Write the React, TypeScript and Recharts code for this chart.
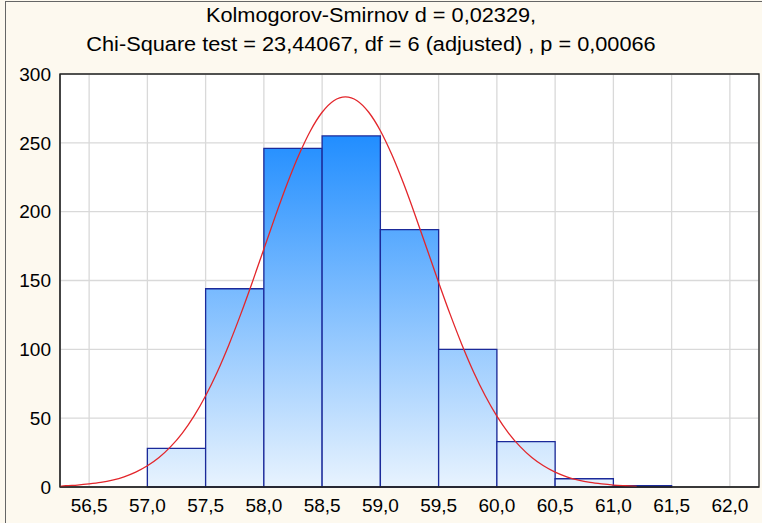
import { ComposedChart, Line, XAxis, YAxis, CartesianGrid, ReferenceArea } from 'recharts';

// histogram bins (lower edge, upper edge, count)
const binStarts = [57.0, 57.5, 58.0, 58.5, 59.0, 59.5, 60.0, 60.5, 61.0];
const binEnds = [57.5, 58.0, 58.5, 59.0, 59.5, 60.0, 60.5, 61.0, 61.5];
const binCounts = [28, 144, 246, 255, 187, 100, 33, 6, 1];

// fitted normal curve
const curveX = [
  56.25, 56.3, 56.4, 56.5, 56.6, 56.7, 56.8, 56.9, 57.0, 57.1, 57.2, 57.3, 57.4, 57.5, 57.6, 57.7, 57.8, 57.9,
  58.0, 58.1, 58.2, 58.3, 58.4, 58.5, 58.6, 58.7, 58.8, 58.9, 59.0, 59.1, 59.2, 59.3, 59.4, 59.5, 59.6, 59.7,
  59.8, 59.9, 60.0, 60.1, 60.2, 60.3, 60.4, 60.5, 60.6, 60.7, 60.8, 60.9, 61.0, 61.1, 61.2,
];
const curveY = [
  0.5, 0.9, 1.4, 2.2, 3.3, 5.0, 7.4, 10.8, 15.4, 21.4, 29.3, 39.2, 51.5, 66.3, 83.6, 103.4, 125.2, 148.6,
  172.9, 197.1, 220.2, 241.1, 258.8, 272.2, 280.6, 283.4, 280.6, 272.2, 258.8, 241.1, 220.2, 197.1, 172.9, 148.6, 125.2, 103.4,
  83.6, 66.3, 51.5, 39.2, 29.3, 21.4, 15.4, 10.8, 7.4, 5.0, 3.3, 2.2, 1.4, 0.9, 0.5,
];

const xTicks = [56.5, 57.0, 57.5, 58.0, 58.5, 59.0, 59.5, 60.0, 60.5, 61.0, 61.5, 62.0];
const yTicks = [0, 50, 100, 150, 200, 250, 300];

const titleLine1 = 'Kolmogorov-Smirnov d = 0,02329,';
const titleLine2 = 'Chi-Square test = 23,44067, df = 6 (adjusted) , p = 0,00066';

const curve = curveX.map((x, i) => ({ x, y: curveY[i] }));

const font = '"Liberation Sans", Arial, sans-serif';

const titleStyle = {
  position: 'absolute' as const,
  left: -10,
  width: 762,
  textAlign: 'center' as const,
  fontSize: 20,
  color: '#000',
  transform: 'scaleX(1.086)',
  transformOrigin: '50% 50%',
  whiteSpace: 'nowrap' as const,
};

const App = () => {
  return (
    <div
      style={{
        position: 'absolute',
        left: 0,
        top: 0,
        width: 762,
        height: 523,
        background: '#fdf9ef',
        fontFamily: font,
        overflow: 'hidden',
      }}
    >
      {/* window frame */}
      <div style={{ position: 'absolute', left: 5, top: 1, width: 760, height: 530, borderLeft: '1px solid #666', borderTop: '1px solid #666' }} />
      <div style={{ ...titleStyle, top: 4 }}>{titleLine1}</div>
      <div style={{ ...titleStyle, top: 33 }}>{titleLine2}</div>
      <div style={{ position: 'absolute', left: 0, top: 0 }}>
        <ComposedChart width={762} height={523} margin={{ top: 74, right: 3, bottom: 0, left: 0 }}>
          <defs>
            <linearGradient id="histGrad" gradientUnits="userSpaceOnUse" x1="0" y1="130" x2="0" y2="487">
              <stop offset="0%" stopColor="#1e8cff" />
              <stop offset="100%" stopColor="#e8f3fe" />
            </linearGradient>
          </defs>
          <CartesianGrid stroke="#d9d9d9" strokeWidth={1.3} fill="#ffffff" />
          <XAxis
            type="number"
            dataKey="x"
            domain={[56.25, 62.25]}
            allowDataOverflow
            ticks={xTicks}
            tickFormatter={(v: number) => v.toFixed(1).replace('.', ',')}
            height={36}
            tickSize={0}
            tickMargin={12}
            axisLine={{ stroke: '#222' }}
            tick={{ fontSize: 19, fill: '#000', fontFamily: font }}
          />
          <YAxis
            type="number"
            domain={[0, 300]}
            ticks={yTicks}
            width={60}
            tickSize={0}
            tickMargin={9}
            axisLine={{ stroke: '#222' }}
            tick={{ fontSize: 19, fill: '#000', fontFamily: font }}
          />
          {binCounts.map((c, i) => (
            <ReferenceArea
              key={i}
              x1={binStarts[i]}
              x2={binEnds[i]}
              y1={0}
              y2={c}
              fill="url(#histGrad)"
              fillOpacity={1}
              stroke="#1b2a9a"
              strokeWidth={1.3}
            />
          ))}
          <Line
            data={curve}
            type="monotone"
            dataKey="y"
            stroke="#e3262b"
            strokeWidth={1.3}
            dot={false}
            activeDot={false}
            isAnimationActive={false}
          />
          <ReferenceArea x1={56.25} x2={62.25} y1={0} y2={300} fill="none" stroke="#222" strokeWidth={1.3} />
        </ComposedChart>
      </div>
    </div>
  );
};

export default App;
